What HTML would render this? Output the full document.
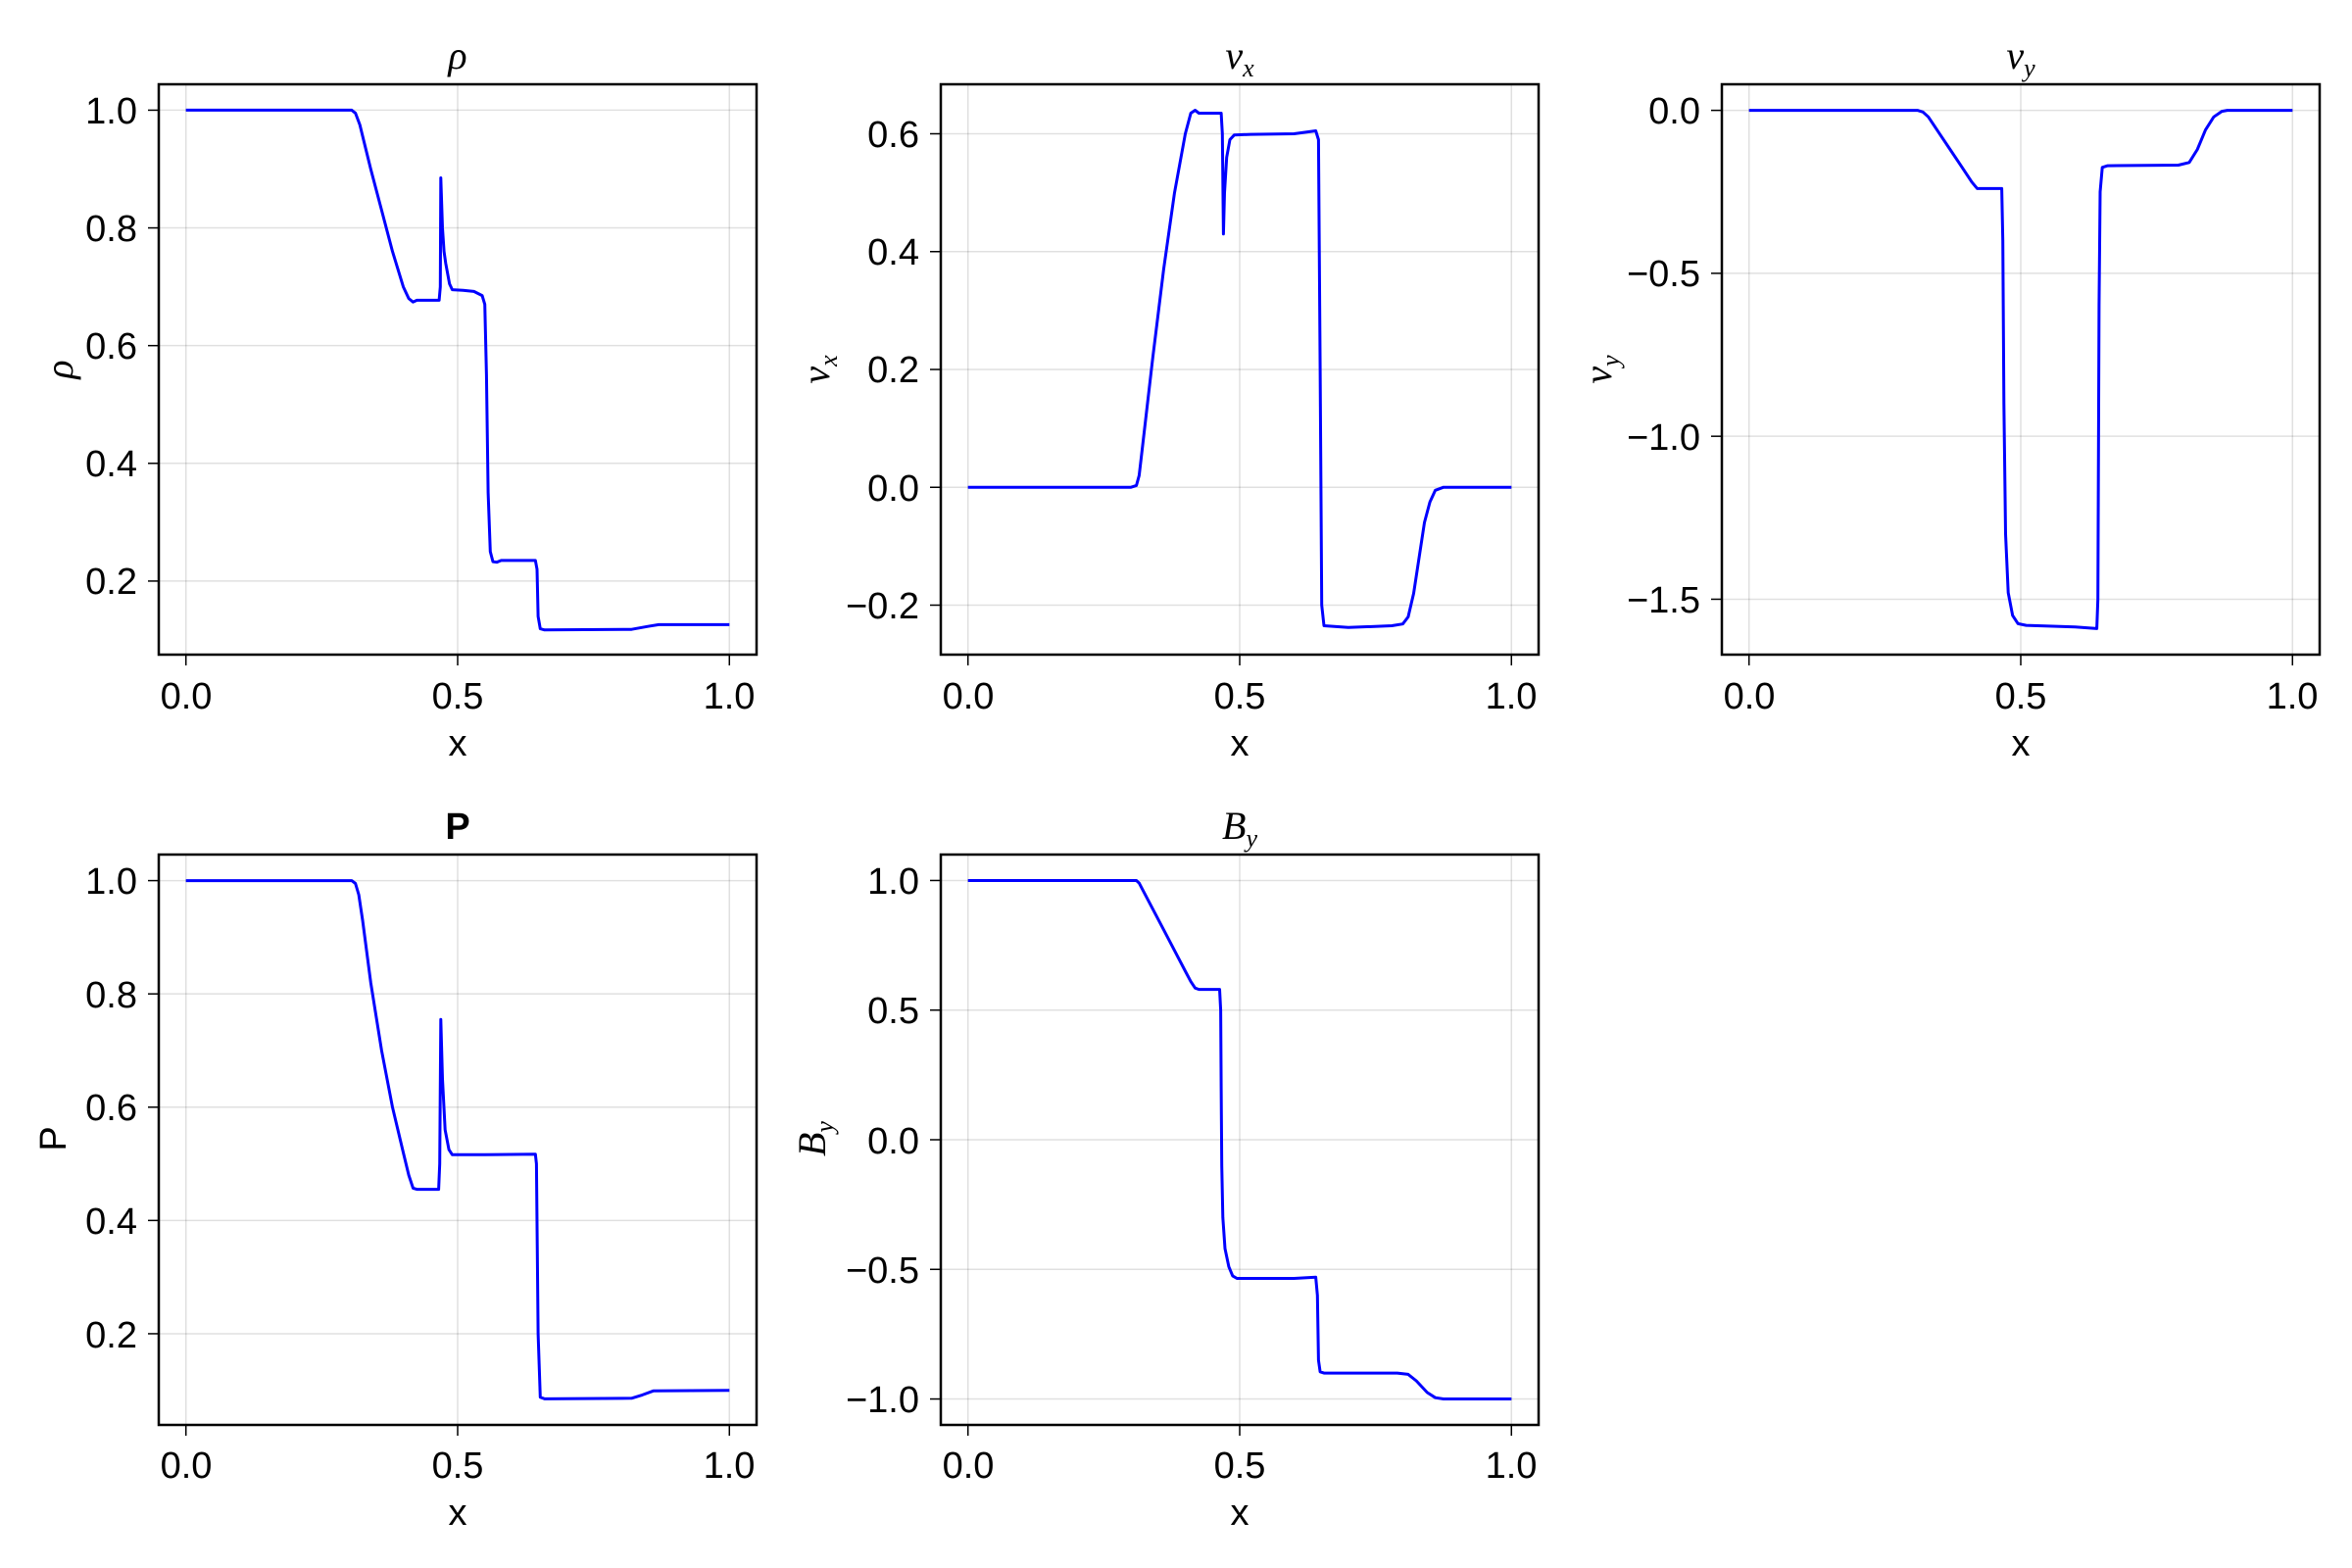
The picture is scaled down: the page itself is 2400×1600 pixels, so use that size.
<!DOCTYPE html>
<html><head><meta charset="utf-8"><style>
html,body{margin:0;padding:0;background:#fff}
svg{display:block}
text{font-family:"Liberation Sans",sans-serif;font-size:38px;fill:#000}
.m{font-family:"Liberation Serif",serif;font-style:italic;font-size:40px}
</style></head><body>
<svg id="s" width="2400" height="1600" viewBox="0 0 2400 1600" xmlns="http://www.w3.org/2000/svg">
<g id="g"></g>
<g text-anchor="middle">
<text x="190" y="723">0.0</text><text x="467" y="723">0.5</text><text x="744" y="723">1.0</text>
<text x="988" y="723">0.0</text><text x="1265" y="723">0.5</text><text x="1542" y="723">1.0</text>
<text x="1785" y="723">0.0</text><text x="2062" y="723">0.5</text><text x="2339" y="723">1.0</text>
<text x="190" y="1508">0.0</text><text x="467" y="1508">0.5</text><text x="744" y="1508">1.0</text>
<text x="988" y="1508">0.0</text><text x="1265" y="1508">0.5</text><text x="1542" y="1508">1.0</text>
<text x="467" y="771">x</text><text x="1265" y="771">x</text><text x="2062" y="771">x</text>
<text x="467" y="1556">x</text><text x="1265" y="1556">x</text>
<text class="m" x="467" y="70">ρ</text>
<text class="m" x="1265" y="70">v<tspan font-size="26" dy="8">x</tspan></text>
<text class="m" x="2062" y="70">v<tspan font-size="26" dy="8">y</tspan></text>
<text x="467" y="856" font-weight="bold">P</text>
<text class="m" x="1265" y="856">B<tspan font-size="26" dy="8">y</tspan></text>
</g>
<g text-anchor="end">
<text x="140" y="126">1.0</text><text x="140" y="246">0.8</text><text x="140" y="366">0.6</text><text x="140" y="486">0.4</text><text x="140" y="606">0.2</text>
<text x="938" y="150">0.6</text><text x="938" y="270">0.4</text><text x="938" y="390">0.2</text><text x="938" y="511">0.0</text><text x="938" y="631">−0.2</text>
<text x="1735" y="126">0.0</text><text x="1735" y="292">−0.5</text><text x="1735" y="459">−1.0</text><text x="1735" y="625">−1.5</text>
<text x="140" y="912">1.0</text><text x="140" y="1028">0.8</text><text x="140" y="1143">0.6</text><text x="140" y="1259">0.4</text><text x="140" y="1375">0.2</text>
<text x="938" y="912">1.0</text><text x="938" y="1044">0.5</text><text x="938" y="1177">0.0</text><text x="938" y="1309">−0.5</text><text x="938" y="1441">−1.0</text>
</g>
<g text-anchor="middle">
<text class="m" transform="translate(74,377) rotate(-90)">ρ</text>
<text class="m" transform="translate(846,377) rotate(-90)">v<tspan font-size="26" dy="8">x</tspan></text>
<text class="m" transform="translate(1644,377) rotate(-90)">v<tspan font-size="26" dy="8">y</tspan></text>
<text transform="translate(67,1162) rotate(-90)">P</text>
<text class="m" transform="translate(842,1162) rotate(-90)">B<tspan font-size="26" dy="8">y</tspan></text>
</g>
</svg>
<script>
var NS="http://www.w3.org/2000/svg",G=document.getElementById("g");
function el(t,a){var e=document.createElementNS(NS,t);for(var k in a)e.setAttribute(k,a[k]);G.appendChild(e);return e;}
var W=610,H=582;
var P=[
{L:162,T:86,lo:0.075,hi:1.044,t:[0.2,0.4,0.6,0.8,1.0],d:[[0,1],[0.305,1],[0.312,0.995],[0.32,0.975],[0.34,0.90],[0.36,0.83],[0.38,0.76],[0.40,0.70],[0.41,0.68],[0.418,0.674],[0.425,0.677],[0.466,0.677],[0.468,0.70],[0.469,0.885],[0.472,0.80],[0.475,0.76],[0.478,0.74],[0.485,0.705],[0.49,0.695],[0.51,0.694],[0.53,0.692],[0.545,0.685],[0.55,0.67],[0.553,0.55],[0.556,0.35],[0.56,0.25],[0.565,0.233],[0.572,0.232],[0.58,0.235],[0.643,0.235],[0.646,0.22],[0.648,0.14],[0.652,0.119],[0.66,0.117],[0.82,0.118],[0.85,0.123],[0.87,0.126],[1,0.126]]},
{L:960,T:86,lo:-0.284,hi:0.684,t:[-0.2,0,0.2,0.4,0.6],d:[[0,0],[0.30,0],[0.31,0.003],[0.315,0.02],[0.32,0.06],[0.34,0.22],[0.36,0.37],[0.38,0.50],[0.40,0.60],[0.41,0.635],[0.418,0.64],[0.425,0.635],[0.466,0.635],[0.468,0.6],[0.47,0.43],[0.472,0.50],[0.476,0.56],[0.482,0.59],[0.49,0.598],[0.52,0.599],[0.60,0.600],[0.64,0.605],[0.645,0.59],[0.648,0.2],[0.651,-0.2],[0.655,-0.235],[0.7,-0.238],[0.78,-0.235],[0.80,-0.232],[0.81,-0.22],[0.82,-0.18],[0.83,-0.12],[0.84,-0.06],[0.85,-0.025],[0.86,-0.005],[0.875,0],[1,0]]},
{L:1757,T:86,lo:-1.67,hi:0.08,t:[-1.5,-1,-0.5,0],d:[[0,0],[0.31,0],[0.32,-0.005],[0.33,-0.02],[0.35,-0.07],[0.37,-0.12],[0.39,-0.17],[0.41,-0.22],[0.42,-0.24],[0.465,-0.24],[0.467,-0.4],[0.469,-0.9],[0.472,-1.3],[0.477,-1.48],[0.485,-1.55],[0.495,-1.575],[0.51,-1.58],[0.6,-1.585],[0.64,-1.59],[0.642,-1.5],[0.644,-0.6],[0.646,-0.25],[0.65,-0.175],[0.66,-0.17],[0.79,-0.168],[0.81,-0.16],[0.825,-0.12],[0.84,-0.06],[0.855,-0.02],[0.87,-0.003],[0.88,0],[1,0]]},
{L:162,T:872,lo:0.039,hi:1.046,t:[0.2,0.4,0.6,0.8,1.0],d:[[0,1],[0.305,1],[0.312,0.995],[0.318,0.975],[0.325,0.93],[0.34,0.82],[0.36,0.70],[0.38,0.60],[0.40,0.52],[0.41,0.48],[0.418,0.457],[0.425,0.455],[0.465,0.455],[0.467,0.5],[0.469,0.755],[0.472,0.65],[0.477,0.56],[0.484,0.525],[0.49,0.516],[0.55,0.516],[0.643,0.517],[0.645,0.5],[0.648,0.2],[0.652,0.088],[0.66,0.085],[0.82,0.086],[0.84,0.092],[0.86,0.099],[1,0.1]]},
{L:960,T:872,lo:-1.1,hi:1.1,t:[-1,-0.5,0,0.5,1],d:[[0,1],[0.31,1],[0.315,0.99],[0.32,0.97],[0.34,0.89],[0.36,0.81],[0.38,0.73],[0.40,0.65],[0.41,0.61],[0.418,0.585],[0.425,0.58],[0.463,0.58],[0.465,0.5],[0.466,0.2],[0.467,-0.1],[0.469,-0.3],[0.473,-0.42],[0.48,-0.49],[0.487,-0.525],[0.495,-0.535],[0.6,-0.535],[0.64,-0.53],[0.643,-0.6],[0.645,-0.85],[0.648,-0.895],[0.655,-0.9],[0.79,-0.9],[0.81,-0.905],[0.825,-0.93],[0.845,-0.975],[0.86,-0.995],[0.875,-1],[1,-1]]}
];
P.forEach(function(p){
 var X=function(x){return p.L+W*(x+0.05)/1.1;},Y=function(v){return p.T+(p.hi-v)/(p.hi-p.lo)*H;};
 [0,0.5,1].forEach(function(x){var xx=X(x);el("line",{x1:xx,x2:xx,y1:p.T,y2:p.T+H,stroke:"rgba(0,0,0,0.12)","stroke-width":1.5});
  el("line",{x1:xx,x2:xx,y1:p.T+H,y2:p.T+H+11,stroke:"#000","stroke-width":1.5});});
 p.t.forEach(function(v){var yy=Y(v);el("line",{x1:p.L,x2:p.L+W,y1:yy,y2:yy,stroke:"rgba(0,0,0,0.12)","stroke-width":1.5});
  el("line",{x1:p.L-11,x2:p.L,y1:yy,y2:yy,stroke:"#000","stroke-width":1.5});});
 var s="";p.d.forEach(function(q,i){s+=(i?"L":"M")+X(q[0]).toFixed(1)+","+Y(q[1]).toFixed(1);});
 el("path",{d:s,fill:"none",stroke:"#0000ff","stroke-width":3,"stroke-linejoin":"round"});
 el("rect",{x:p.L,y:p.T,width:W,height:H,fill:"none",stroke:"#000","stroke-width":2.5});
});
</script>
</body></html>
